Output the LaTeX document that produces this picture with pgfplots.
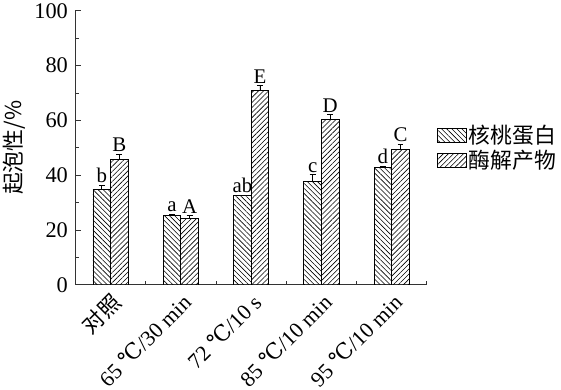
\documentclass[border=0pt]{standalone}
\usepackage{pgfplots}
\pgfplotsset{compat=1.18}
\usepackage{pgfplotstable}
\usetikzlibrary{patterns.meta}
\usepackage{fontspec}
\setmainfont{Liberation Serif}
\newfontfamily\cjk{Noto Sans CJK SC}
\newfontfamily\degfont{DejaVu Serif}

\pgfplotstableread{
x y err lab
0 34.8 1.5 b
1 25.4 0.3 a
2 32.5 0.3 ab
3 37.8 2.4 c
4 43.0 0.3 d
}\walnut
\pgfplotstableread{
x y err lab
0 45.9 1.8 B
1 24.3 0.9 A
2 70.9 1.8 E
3 60.4 1.7 D
4 49.5 1.8 C
}\hydro

\newcommand{\dC}{{\degfont ℃}}

\begin{document}
\begin{tikzpicture}[font=\fontsize{21}{25}\selectfont]
\begin{axis}[
  scale only axis, width=354pt, height=276pt,
  ymin=0, ymax=100, xmin=-0.5, xmax=4.5,
  ybar=0pt, bar width=17.7pt,
  axis x line*=bottom, axis y line*=left,
  axis line style={black!80, line width=1pt, -},
  every tick/.style={black!80, line width=0.9pt},
  ytick={0,20,...,100}, minor ytick={10,30,...,90},
  xtick={0,1,2,3,4},
  xticklabels={{\cjk 对照}, {65 \dC/30 min}, {72 \dC/10 s}, {85 \dC/10 min}, {95 \dC/10 min}},
  minor xtick={0.5,1.5,2.5,3.5,4.5},
  major x tick style={draw=none},
  major tick length=6pt, minor tick length=4pt,
  tick align=inside,
  xticklabel style={rotate=45, anchor=east, inner sep=1pt, xshift=-4pt, yshift=-14pt, font=\fontsize{22}{26}\selectfont},
  yticklabel style={xshift=-4pt, font=\fontsize{22.5}{26}\selectfont},
  /pgf/number format/assume math mode=true,
  ylabel={\fontsize{22}{26}\selectfont\cjk 起泡性/\%},
  ylabel style={yshift=2pt},
  legend style={at={(1.02,0.5)}, anchor=west, draw=none, fill=none, font=\fontsize{22}{26}\selectfont\cjk, row sep=1pt},
  legend cell align=left,
  legend image code/.code={\draw[#1, draw=black, line width=0.8pt] (0pt,-7pt) rectangle (29pt,7pt);},
  point meta=explicit symbolic,
  nodes near coords,
  visualization depends on={\thisrow{err}\as\myerr},
  nodes near coords style={shift={(axis direction cs:0,\myerr)}, anchor=south, inner sep=2pt, font=\fontsize{21}{25}\selectfont, black},
]
\addplot[draw=black, line width=0.8pt, pattern={Lines[angle=-45, distance=3.6pt, line width=0.6pt]}, pattern color=black,
  error bars/.cd, y dir=plus, y explicit,
  error bar style={black, line width=0.8pt},
  error mark options={rotate=90, mark size=3pt, black, line width=0.8pt}]
  table[x=x, y=y, y error=err, meta=lab] {\walnut};
\addlegendentry{核桃蛋白}
\addplot[draw=black, line width=0.8pt, pattern={Lines[angle=45, distance=3.6pt, line width=0.6pt]}, pattern color=black,
  error bars/.cd, y dir=plus, y explicit,
  error bar style={black, line width=0.8pt},
  error mark options={rotate=90, mark size=3pt, black, line width=0.8pt}]
  table[x=x, y=y, y error=err, meta=lab] {\hydro};
\addlegendentry{酶解产物}
\end{axis}
\end{tikzpicture}
\end{document}
